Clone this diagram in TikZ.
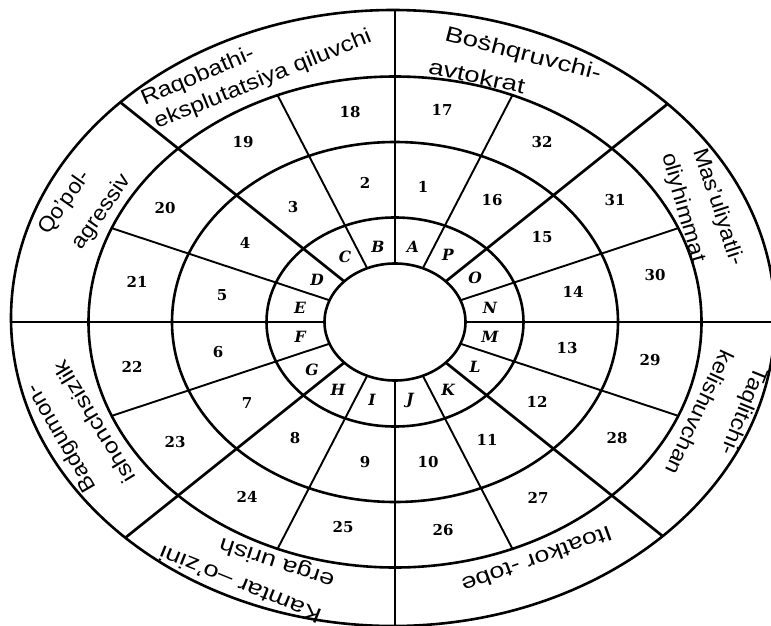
\documentclass[tikz,border=0pt]{standalone}
\usepackage{fontspec}
\usepackage{graphicx}
\newfontfamily\labfont{Liberation Sans}
\newfontfamily\numfont{DejaVu Serif}
\newcommand{\xs}[2]{\scalebox{#1}[1]{#2}}
\newcommand{\dotS}{\ooalign{s\cr\hidewidth\raisebox{0.58em}{.}\hidewidth\cr}}
\begin{document}
\begin{tikzpicture}[x=1pt,y=-1pt,
  ell/.style={line width=2.6pt},
  longspoke/.style={line width=2.7pt},
  shortspoke/.style={line width=1.9pt},
  num/.style={font=\numfont\bfseries\fontsize{15}{17}\selectfont, inner sep=0pt},
  let/.style={font=\numfont\bfseries\itshape\fontsize{15.5}{17}\selectfont, inner sep=0pt},
  lab/.style={font=\labfont\fontsize{21.5}{23}\selectfont, inner sep=0pt}]
\useasboundingbox (0,0) rectangle (771,626);
\coordinate (C) at (395,322);
\coordinate (C4) at (393,318);
% spokes
\begin{scope}
  \clip (C4) ellipse [x radius=382pt, y radius=308pt];
  \foreach \t in {0,45,...,315} \draw[longspoke] (C) -- ++(\t:600pt and 480pt);
\end{scope}
\begin{scope}
  \clip (C) ellipse [x radius=306.5pt, y radius=245.5pt];
  \foreach \t in {22.5,67.5,...,337.5} \draw[shortspoke] (C) -- ++(\t:600pt and 480pt);
\end{scope}
% ellipses
\fill[white] (C) ellipse [x radius=70.5pt, y radius=58.5pt];
\draw[ell] (C) ellipse [x radius=70.5pt, y radius=58.5pt];
\draw[ell] (C) ellipse [x radius=128.5pt, y radius=104.5pt];
\draw[ell] (C) ellipse [x radius=223pt, y radius=180pt];
\draw[ell] (C) ellipse [x radius=306.5pt, y radius=245.5pt];
\draw[ell] (C4) ellipse [x radius=382pt, y radius=308pt];
% letters
\node[let] (lA) at (413,247) {A};
\node[let] (lB) at (378,247) {B};
\node[let] (lC) at (345,257) {C};
\node[let] (lD) at (317,280) {D};
\node[let] (lE) at (300,308) {E};
\node[let] (lF) at (300,337) {F};
\node[let] (lG) at (312,370) {G};
\node[let] (lH) at (338,390) {H};
\node[let] (lI) at (372,400) {I};
\node[let] (lJ) at (410,400) {J};
\node[let] (lK) at (448,390) {K};
\node[let] (lL) at (475,367) {L};
\node[let] (lM) at (490,337) {M};
\node[let] (lN) at (490,308) {N};
\node[let] (lO) at (475,278) {O};
\node[let] (lP) at (448,255) {P};
% numbers inner ring
\node[num] (n1) at (423,187) {1};
\node[num] (n2) at (365,183) {2};
\node[num] (n3) at (293,207) {3};
\node[num] (n4) at (245,243) {4};
\node[num] (n5) at (222,295) {5};
\node[num] (n6) at (218,352) {6};
\node[num] (n7) at (247,403) {7};
\node[num] (n8) at (295,438) {8};
\node[num] (n9) at (365,462) {9};
\node[num] (n10) at (428,462) {10};
\node[num] (n11) at (487,440) {11};
\node[num] (n12) at (537,402) {12};
\node[num] (n13) at (567,348) {13};
\node[num] (n14) at (573,292) {14};
\node[num] (n15) at (542,237) {15};
\node[num] (n16) at (492,200) {16};
% numbers outer ring
\node[num] (n17) at (442,110) {17};
\node[num] (n18) at (350,112) {18};
\node[num] (n19) at (243,142) {19};
\node[num] (n20) at (165,208) {20};
\node[num] (n21) at (137,282) {21};
\node[num] (n22) at (132,367) {22};
\node[num] (n23) at (175,442) {23};
\node[num] (n24) at (247,497) {24};
\node[num] (n25) at (343,527) {25};
\node[num] (n26) at (443,530) {26};
\node[num] (n27) at (538,498) {27};
\node[num] (n28) at (617,438) {28};
\node[num] (n29) at (650,360) {29};
\node[num] (n30) at (655,275) {30};
\node[num] (n31) at (615,200) {31};
\node[num] (n32) at (542,142) {32};
% labels
\node[lab, rotate=-14.5] (t1a) at (523,55) {\xs{1.28}{Bo\dotS hqruvchi-}};
\node[lab, rotate=-12] (t1b) at (477,76) {\xs{1.28}{avtokrat}};
\node[lab, rotate=23] (t2a) at (198,77) {\xs{1.15}{Raqobathi-}};
\node[lab, rotate=22] (t2b) at (263,80) {\xs{1.15}{eksplutatsiya qiluvchi}};
\node[lab, rotate=55] (t3a) at (65,203) {\xs{1.05}{Qo’pol-}};
\node[lab, rotate=55] (t3b) at (102,212) {\xs{1.08}{agressiv}};
\node[lab, rotate=120] (t4a) at (62,438) {\xs{1.08}{Badgumon-}};
\node[lab, rotate=121] (t4b) at (94,422) {\xs{1.15}{ishonchsizlik}};
\node[lab, rotate=158] (t5a) at (240,585) {\xs{1.27}{Kamtar –o’zini}};
\node[lab, rotate=162] (t5b) at (277,562) {\xs{1.25}{erga urish}};
\node[lab, rotate=200] (t6a) at (537,560) {\xs{1.25}{Itoatkor -tobe}};
\node[lab, rotate=-112] (t7a) at (743,411) {\xs{1.1}{Taqlitchi-}};
\node[lab, rotate=-115] (t7b) at (700,413) {\xs{1.08}{kelishuvchan}};
\node[lab, rotate=-72] (t8a) at (718,207) {\xs{1.08}{Mas’uliyatli-}};
\node[lab, rotate=-74] (t8b) at (683,208) {\xs{1.1}{oliyhimmat}};
\end{tikzpicture}
\end{document}
